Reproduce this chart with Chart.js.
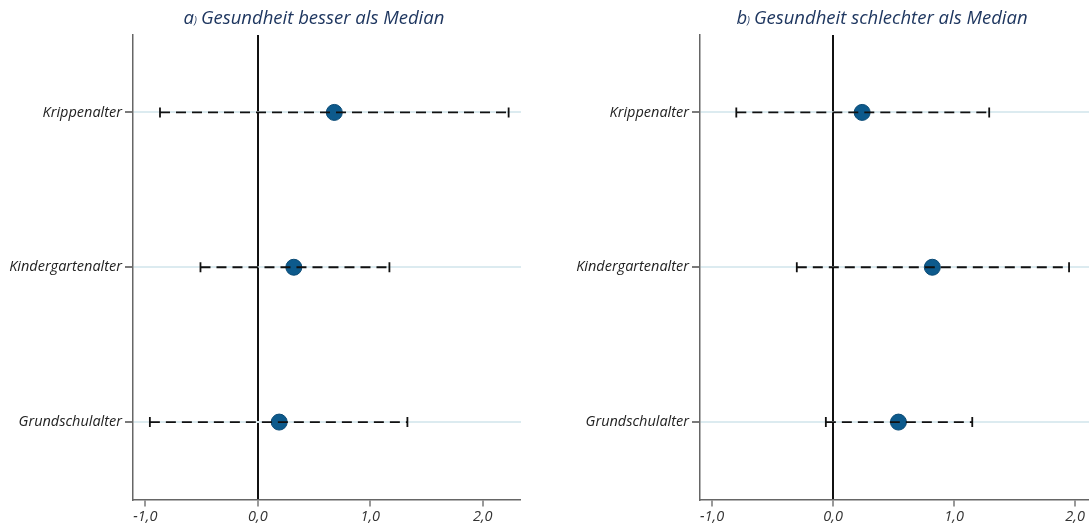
<!DOCTYPE html>
<html>
<head>
<meta charset="utf-8">
<script src="https://cdn.jsdelivr.net/npm/chart.js@4.4.1/dist/chart.umd.min.js"></script>
<style>
  html, body { margin: 0; padding: 0; background: #fff; }
  body { width: 1089px; height: 528px; position: relative; overflow: hidden; font-family: "Open Sans", sans-serif; }
  .panel { position: absolute; top: 0; height: 528px; }
  .title { position: absolute; top: 4px; font-style: italic; font-size: 18.5px; color: #1f3760; white-space: nowrap; transform: translateX(-50%); line-height: 26px; }
  .title .par { font-size: 10px; margin-right: 4px; }
</style>
</head>
<body>
<div class="panel" style="left:0;width:545px;"><canvas id="cA" width="545" height="528"></canvas></div>
<div class="panel" style="left:545px;width:570px;"><canvas id="cB" width="570" height="528"></canvas></div>
<div class="title" style="left:314px;">a<span class="par">)</span>Gesundheit besser als Median</div>
<div class="title" style="left:882px;">b<span class="par">)</span>Gesundheit schlechter als Median</div>
<script>
// ---- data ----
const categories = ["Krippenalter", "Kindergartenalter", "Grundschulalter"];
const xTicks = [-1, 0, 1, 2];
// panel a) Gesundheit besser als Median
const estA = [0.68, 0.32, 0.19];
const lowA = [-0.87, -0.51, -0.96];
const highA = [2.23, 1.17, 1.33];
// panel b) Gesundheit schlechter als Median
const estB = [0.24, 0.82, 0.54];
const lowB = [-0.80, -0.30, -0.06];
const highB = [1.29, 1.95, 1.15];

const tickFont = { family: "'Open Sans', sans-serif", size: 14.5, style: "italic" };

function makeChart(id, est, low, high, xMin, xMax, yWidth, padRight) {
  const datasets = [];
  categories.forEach((c, i) => {
    datasets.push({
      type: 'line',
      data: [{ x: low[i], y: i + 1 }, { x: high[i], y: i + 1 }],
      borderColor: '#111',
      borderWidth: 1.8,
      borderDash: [10, 6],
      pointStyle: 'line',
      rotation: 90,
      pointRadius: 5,
      pointHoverRadius: 5,
      pointBorderColor: '#111',
      pointBorderWidth: 1.8,
      fill: false,
      order: 1
    });
  });
  datasets.push({
    type: 'scatter',
    data: est.map((v, i) => ({ x: v, y: i + 1 })),
    backgroundColor: '#0d5a8c',
    borderColor: '#0a4a75',
    borderWidth: 1,
    pointRadius: 8,
    pointHoverRadius: 8,
    order: 2
  });
  return new Chart(document.getElementById(id), {
    type: 'scatter',
    data: { datasets },
    options: {
      responsive: false,
      animation: false,
      events: [],
      layout: { padding: { top: 35, right: padRight, left: 0, bottom: 0 } },
      plugins: { legend: { display: false }, tooltip: { enabled: false }, title: { display: false } },
      scales: {
        x: {
          type: 'linear',
          min: xMin, max: xMax,
          afterBuildTicks: (s) => { s.ticks = xTicks.map(v => ({ value: v })); },
          afterFit: (s) => { s.height = 28.5; },
          ticks: {
            font: tickFont, color: '#333', padding: 2, maxRotation: 0,
            callback: (v) => v.toFixed(1).replace('.', ',')
          },
          grid: {
            color: (ctx) => (ctx.tick && ctx.tick.value === 0) ? '#111' : 'rgba(0,0,0,0)',
            lineWidth: (ctx) => (ctx.tick && ctx.tick.value === 0) ? 2 : 0,
            tickColor: '#555', tickLength: 7, tickWidth: 1.2, drawTicks: true
          },
          border: { display: true, color: '#666', width: 1.5 }
        },
        y: {
          type: 'linear',
          reverse: true,
          min: 0.5, max: 3.5,
          afterBuildTicks: (s) => { s.ticks = [1, 2, 3].map(v => ({ value: v })); },
          afterFit: (s) => { s.width = yWidth; },
          ticks: {
            font: tickFont, color: '#222', padding: 3,
            callback: (v) => categories[Math.round(v) - 1]
          },
          grid: { color: '#dcebf0', lineWidth: 2, tickColor: '#222', tickLength: 8, tickWidth: 1.2 },
          border: { display: true, color: '#666', width: 1.5 }
        }
      }
    }
  });
}

makeChart('cA', estA, lowA, highA, -1.11, 2.34, 133, 24);
makeChart('cB', estB, lowB, highB, -1.10, 2.247, 155, 10);
</script>
</body>
</html>
